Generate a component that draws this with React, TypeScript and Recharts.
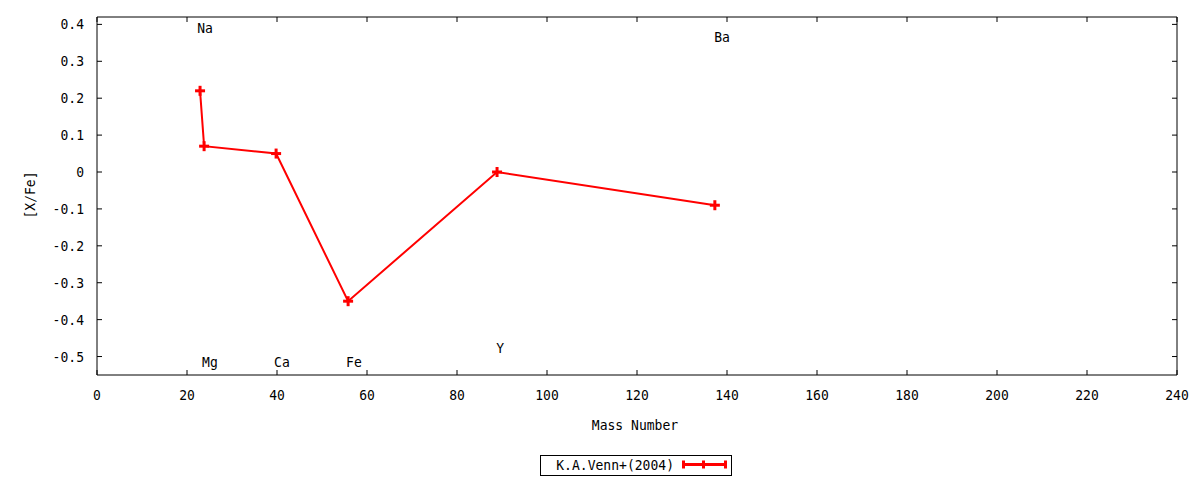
import React from 'react';
import { ComposedChart, Line, Scatter, XAxis, YAxis, Legend } from 'recharts';

const masses = [22.9, 23.8, 39.8, 55.8, 88.9, 137.3];
const abundances = [0.22, 0.07, 0.05, -0.35, 0.0, -0.09];
const elementNames = ['Na', 'Mg', 'Ca', 'Fe', 'Y', 'Ba'];
const labelX = [24, 25.1, 41.1, 57.1, 89.6, 138.9];
const labelY = [0.39, -0.516, -0.516, -0.516, -0.478, 0.365];
const xTicks = [0, 20, 40, 60, 80, 100, 120, 140, 160, 180, 200, 220, 240];
const yTicks = [-0.5, -0.4, -0.3, -0.2, -0.1, 0, 0.1, 0.2, 0.3, 0.4];
const seriesName = 'K.A.Venn+(2004)';

const FONT = '"DejaVu Sans Mono", monospace';
const FS = 14.5;
const CW = 7.85;
const RED = '#ff0000';

const seriesData = masses.map((m, i) => ({ x: m, y: abundances[i] }));
const labelData = elementNames.map((n, i) => ({ x: labelX[i], y: labelY[i], name: n }));

const fmtY = (v: number) => (v === 0 ? '0' : v.toFixed(1));

const T = ({ x, y, anchor, children, transform }: any) => {
  const s = String(children);
  return (
    <text
      x={x}
      y={y}
      textAnchor={anchor || 'middle'}
      fontFamily={FONT}
      fontSize={FS}
      fill="#000"
      textLength={s.length * CW}
      lengthAdjust="spacingAndGlyphs"
      transform={transform}
    >
      {s}
    </text>
  );
};

const BottomTick = (p: any) => (
  <g>
    <line x1={p.x} y1={p.y} x2={p.x} y2={p.y - 5} stroke="#000" />
    <T x={p.x} y={p.y + 24.5}>{p.payload.value}</T>
  </g>
);
const TopTick = (p: any) => (
  <g>
    <line x1={p.x} y1={p.y} x2={p.x} y2={p.y + 5} stroke="#000" />
  </g>
);
const LeftTick = (p: any) => (
  <g>
    <line x1={p.x} y1={p.y} x2={p.x + 5} y2={p.y} stroke="#000" />
    <T x={p.x - 13} y={p.y + 5} anchor="end">{fmtY(p.payload.value)}</T>
  </g>
);
const RightTick = (p: any) => (
  <g>
    <line x1={p.x} y1={p.y} x2={p.x - 5} y2={p.y} stroke="#000" />
  </g>
);

const PlusDot = (p: any) => {
  if (p.cx == null || p.cy == null) return <g key={`d${p.index}`} />;
  return (
    <g key={`d${p.index}`}>
      <rect x={p.cx - 5} y={p.cy - 1.5} width={10} height={3} fill={RED} />
      <rect x={p.cx - 1.5} y={p.cy - 5} width={3} height={10} fill={RED} />
    </g>
  );
};

const LabelShape = (p: any) => (
  <T x={p.cx} y={p.cy + 5}>{p.payload.name}</T>
);

const renderLegend = () => (
  <svg width={193} height={21} style={{ display: 'block' }}>
    <rect x={0.5} y={0.5} width={191} height={20} fill="#fff" stroke="#000" />
    <T x={134} y={15} anchor="end">{seriesName}</T>
    <line x1={143} y1={9.5} x2={185} y2={9.5} stroke={RED} strokeWidth={3} />
    <rect x={142} y={5.5} width={3} height={8} fill={RED} />
    <rect x={162} y={5.5} width={3} height={8} fill={RED} />
    <rect x={184} y={5.5} width={3} height={8} fill={RED} />
  </svg>
);

export default function App() {
  return (
    <div style={{ position: 'absolute', left: 0, top: 0, width: 1200, height: 480, background: '#fff' }}>
      <ComposedChart
        width={1200}
        height={480}
        margin={{ top: 7, right: 13, bottom: 65, left: 37 }}
      >
        <XAxis
          xAxisId="b"
          type="number"
          dataKey="x"
          domain={[0, 240]}
          ticks={xTicks}
          interval={0}
          allowDataOverflow
          height={40}
          tickSize={0}
          tickMargin={0}
          tickLine={false}
          tick={<BottomTick />}
          axisLine={{ stroke: '#000' }}
        />
        <XAxis
          xAxisId="t"
          orientation="top"
          type="number"
          dataKey="x"
          domain={[0, 240]}
          ticks={xTicks}
          interval={0}
          allowDataOverflow
          height={10}
          tickSize={0}
          tickMargin={0}
          tickLine={false}
          tick={<TopTick />}
          axisLine={{ stroke: '#000' }}
        />
        <YAxis
          yAxisId="l"
          type="number"
          domain={[-0.55, 0.42]}
          ticks={yTicks}
          interval={0}
          allowDataOverflow
          width={60}
          tickSize={0}
          tickMargin={0}
          tickLine={false}
          tick={<LeftTick />}
          axisLine={{ stroke: '#000' }}
        />
        <YAxis
          yAxisId="r"
          orientation="right"
          type="number"
          domain={[-0.55, 0.42]}
          ticks={yTicks}
          interval={0}
          allowDataOverflow
          width={10}
          tickSize={0}
          tickMargin={0}
          tickLine={false}
          tick={<RightTick />}
          axisLine={{ stroke: '#000' }}
        />
        <Line
          xAxisId="b"
          yAxisId="l"
          data={seriesData}
          dataKey="y"
          name={seriesName}
          type="linear"
          stroke={RED}
          strokeWidth={2}
          dot={PlusDot}
          activeDot={false}
          isAnimationActive={false}
        />
        <Scatter
          xAxisId="b"
          yAxisId="l"
          data={labelData}
          dataKey="y"
          shape={LabelShape}
          isAnimationActive={false}
        />
        <Legend
          verticalAlign="middle"
          align="center"
          content={renderLegend}
          wrapperStyle={{ top: 455, left: 540, width: 193, height: 21 }}
        />
      </ComposedChart>
      <svg width={1200} height={480} style={{ position: 'absolute', left: 0, top: 0, pointerEvents: 'none' }}>
        <T x={635} y={430}>Mass Number</T>
        <T x={35} y={195} transform="rotate(-90 35 195)">[X/Fe]</T>
      </svg>
    </div>
  );
}
